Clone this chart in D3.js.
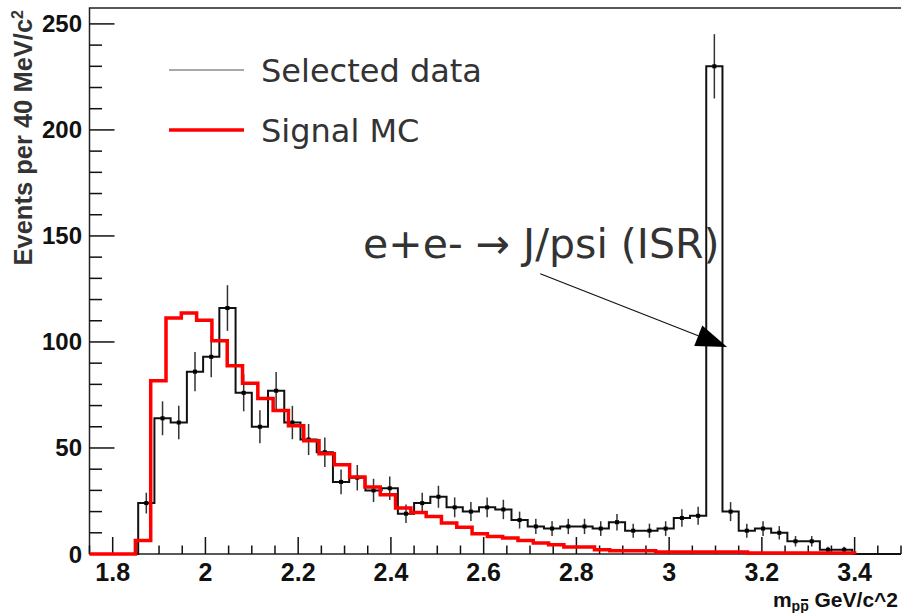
<!DOCTYPE html>
<html>
<head>
<meta charset="utf-8">
<script src="https://cdn.jsdelivr.net/npm/d3@7"></script>
<style>
  html, body { margin: 0; padding: 0; background: #fff; }
  svg { display: block; }
</style>
</head>
<body>
<svg id="chart" width="905" height="613"></svg>
<script>
// ---------------- data ----------------
// Selected data: 50 bins, 1.75 .. 3.50 (bin width 0.035)
const dataLow = 1.75;
const dataBinWidth = 0.035;
const dataCounts = [0,0,0,24,64,62,86,93,116,76,60,77,62,54,48,34,36,30,31,19,24,27,22,20,22,21,16,13,12,13,13,12,15,11,11,12,17,18,230,20,11,12,10,6,6,2,2,0,0,0];

// Signal MC: 50 bins, 1.75 .. 3.40 (bin width 0.033)
const mcLow = 1.75;
const mcBinWidth = 0.033;
const mcCounts = [0,0,0,6.4,81.7,111.3,113.7,110.2,100.6,88.8,80.5,73.3,67.7,60.5,53.4,47.3,42.1,36.3,31.6,28,21.7,19.6,17.7,14.6,12.6,9.6,8.3,7.5,6.4,5.2,4.4,3.3,3.3,2.0,1.5,1.5,1.5,1.0,1.0,1.0,1.0,1.0,1.0,0.5,0.5,0.5,0.5,0.5,0.5,0.5];

const xTicks = [1.8, 2.0, 2.2, 2.4, 2.6, 2.8, 3.0, 3.2, 3.4];
const xTickLabels = ["1.8","2","2.2","2.4","2.6","2.8","3","3.2","3.4"];
const yTicks = [0, 50, 100, 150, 200, 250];
const yTickLabels = ["0","50","100","150","200","250"];
const legendLabels = ["Selected data", "Signal MC"];
const annotationText = "e+e- \u2192 J/psi (ISR)";
const annotationPos = {x: 2.34, y: 139.6};
const arrowFrom = {x: 2.722, y: 132.2};
const arrowTo = {x: 3.125, y: 97.6};

// ---------------- layout ----------------
const svg = d3.select("#chart");
const X0 = 89.5, X1 = 901, Y0 = 554, Y1 = 8;
const x = d3.scaleLinear().domain([1.75, 3.5]).range([X0, X1]);
const y = d3.scaleLinear().domain([0, 257.5]).range([Y0, Y1]);
const labelFont = "'Liberation Sans', Arial, Helvetica, sans-serif";

function stepPath(low, w, counts) {
  let p = "M" + x(low) + "," + y(0);
  counts.forEach((c, i) => {
    const a = x(low + i * w), b = x(low + (i + 1) * w);
    p += "L" + a + "," + y(c) + "L" + b + "," + y(c);
  });
  p += "L" + x(low + counts.length * w) + "," + y(0);
  return p;
}

// frame
svg.append("path")
  .attr("d", `M${X0},${Y0}L${X0},${Y1}L${X1},${Y1}`)
  .attr("fill", "none").attr("stroke", "#222").attr("stroke-width", 1.5);
svg.append("line").attr("x1", X0).attr("x2", X1).attr("y1", Y0).attr("y2", Y0)
  .attr("stroke", "#222").attr("stroke-width", 1.5);

// x ticks
const xMinor = d3.range(1.75, 3.5001, 0.05);
svg.append("g").selectAll("line").data(xMinor).join("line")
  .attr("x1", d => x(d)).attr("x2", d => x(d))
  .attr("y1", Y0).attr("y2", d => (Math.abs(d * 5 - Math.round(d * 5)) < 1e-6) ? Y0 - 17 : Y0 - 8.5)
  .attr("stroke", "#111").attr("stroke-width", 1.5);
svg.append("g").selectAll("text").data(xTicks).join("text")
  .attr("x", d => x(d)).attr("y", 581)
  .attr("text-anchor", "middle")
  .attr("font-family", labelFont)
  .attr("font-weight", "bold").attr("font-size", 25).attr("fill", "#111")
  .text((d, i) => xTickLabels[i]);

// y ticks
const yMinor = d3.range(0, 257, 10);
svg.append("g").selectAll("line").data(yMinor).join("line")
  .attr("y1", d => y(d)).attr("y2", d => y(d))
  .attr("x1", X0).attr("x2", d => d % 50 === 0 ? X0 + 25 : X0 + 12.5)
  .attr("stroke", "#111").attr("stroke-width", 1.5);
svg.append("g").selectAll("text").data(yTicks).join("text")
  .attr("x", 82).attr("y", d => y(d) + 8.5)
  .attr("text-anchor", "end")
  .attr("font-family", labelFont)
  .attr("font-weight", "bold").attr("font-size", 24).attr("fill", "#111")
  .text((d, i) => yTickLabels[i]);

// y title
const yt = svg.append("text")
  .attr("transform", "translate(32,10) rotate(-90)")
  .attr("text-anchor", "end")
  .attr("font-family", labelFont)
  .attr("font-weight", "bold").attr("font-size", 25.5).attr("fill", "#333");
yt.append("tspan").text("Events per 40 MeV/c");
yt.append("tspan").attr("dy", -9).attr("font-size", 16).text("2");

// x title
const xt = svg.append("text")
  .attr("x", 898).attr("y", 607)
  .attr("text-anchor", "end")
  .attr("font-family", labelFont)
  .attr("font-weight", "bold").attr("font-size", 21).attr("fill", "#111");
xt.append("tspan").text("m");
xt.append("tspan").attr("dy", 4).attr("font-size", 14).text("pp");
xt.append("tspan").attr("dy", -4).text(" GeV/c^2");
const ppStart = xt.node().getStartPositionOfChar(2);
const ppEnd = xt.node().getEndPositionOfChar(2);
svg.append("line")
  .attr("x1", ppStart.x + 1).attr("x2", ppEnd.x - 0.5)
  .attr("y1", 600).attr("y2", 600)
  .attr("stroke", "#111").attr("stroke-width", 2);

// data histogram
svg.append("path").attr("d", stepPath(dataLow, dataBinWidth, dataCounts))
  .attr("fill", "none").attr("stroke", "#111").attr("stroke-width", 2);

// error bars and markers
const pts = dataCounts.map((c, i) => ({c, xc: dataLow + (i + 0.5) * dataBinWidth})).filter(d => d.c > 0);
svg.append("g").selectAll("line").data(pts).join("line")
  .attr("x1", d => x(d.xc)).attr("x2", d => x(d.xc))
  .attr("y1", d => y(d.c + Math.sqrt(d.c))).attr("y2", d => y(d.c - Math.sqrt(d.c)))
  .attr("stroke", "#333").attr("stroke-width", 1.5);
svg.append("g").selectAll("rect").data(pts).join("rect")
  .attr("x", d => x(d.xc) - 2).attr("y", d => y(d.c) - 2)
  .attr("width", 4).attr("height", 4).attr("fill", "#000");

// MC histogram
svg.append("path").attr("d", stepPath(mcLow, mcBinWidth, mcCounts))
  .attr("fill", "none").attr("stroke", "#ff0000").attr("stroke-width", 3.5);

// legend
const lg = svg.append("g");
lg.append("line").attr("x1", 169).attr("x2", 244).attr("y1", 70).attr("y2", 70)
  .attr("stroke", "#555").attr("stroke-width", 1.2);
lg.append("line").attr("x1", 169).attr("x2", 244).attr("y1", 130).attr("y2", 130)
  .attr("stroke", "#ff0000").attr("stroke-width", 3.5);
lg.selectAll("text").data(legendLabels).join("text")
  .attr("x", 261).attr("y", (d, i) => 82 + i * 60)
  .attr("font-family", "'DejaVu Sans', Verdana, sans-serif")
  .attr("font-size", 32).attr("fill", "#333")
  .text(d => d);

// annotation
svg.append("text").attr("x", x(annotationPos.x)).attr("y", y(annotationPos.y))
  .attr("font-family", "'DejaVu Sans', Verdana, sans-serif")
  .attr("font-size", 41).attr("fill", "#333")
  .text(annotationText);

// arrow
const ax0 = x(arrowFrom.x), ay0 = y(arrowFrom.y), ax1 = x(arrowTo.x), ay1 = y(arrowTo.y);
const ang = Math.atan2(ay1 - ay0, ax1 - ax0);
const hl = 31, hw = 11;
const bx = ax1 - hl * Math.cos(ang), by = ay1 - hl * Math.sin(ang);
svg.append("line").attr("x1", ax0).attr("y1", ay0).attr("x2", bx).attr("y2", by)
  .attr("stroke", "#111").attr("stroke-width", 1.2);
svg.append("polygon")
  .attr("points", [
    [ax1, ay1],
    [bx + hw * Math.sin(ang), by - hw * Math.cos(ang)],
    [bx - hw * Math.sin(ang), by + hw * Math.cos(ang)]
  ].map(p => p.join(",")).join(" "))
  .attr("fill", "#000");
</script>
</body>
</html>
